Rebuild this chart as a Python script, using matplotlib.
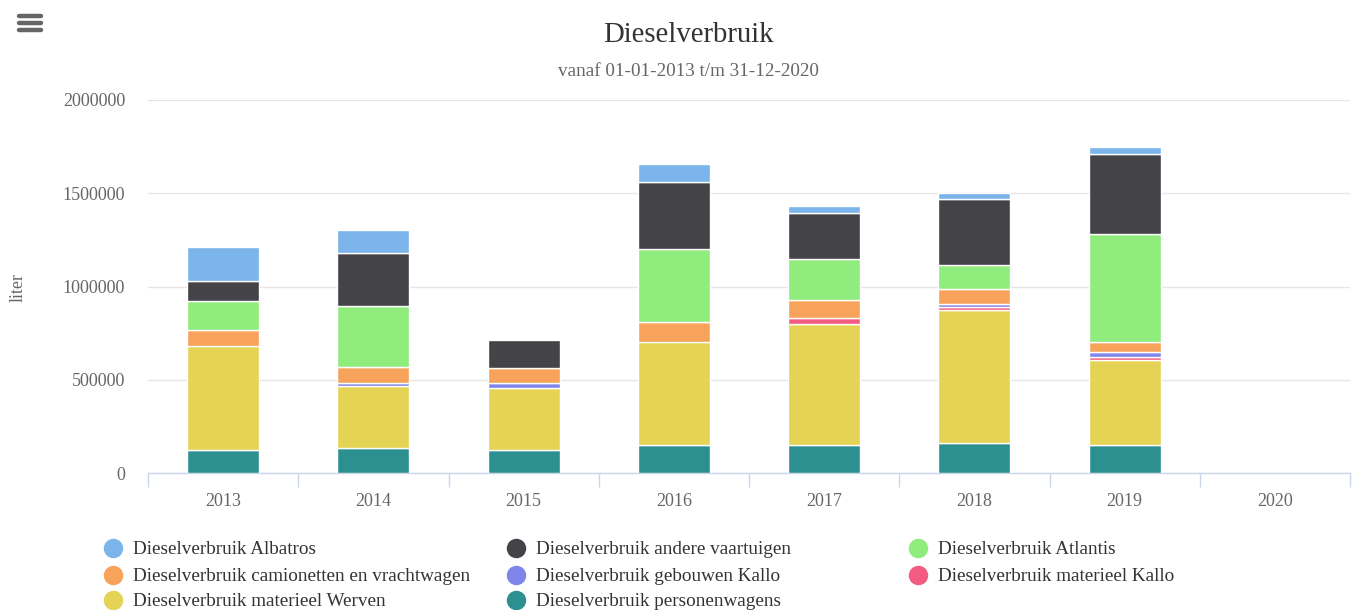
import numpy as np
import matplotlib
matplotlib.use("Agg")
import matplotlib.pyplot as plt
from matplotlib.lines import Line2D

plt.rcParams["font.family"] = ["Liberation Serif", "DejaVu Serif"]

years = ["2013", "2014", "2015", "2016", "2017", "2018", "2019", "2020"]

# legend order (Highcharts stacks the first series on top)
series_names = [
    "Dieselverbruik Albatros",
    "Dieselverbruik andere vaartuigen",
    "Dieselverbruik Atlantis",
    "Dieselverbruik camionetten en vrachtwagen",
    "Dieselverbruik gebouwen Kallo",
    "Dieselverbruik materieel Kallo",
    "Dieselverbruik materieel Werven",
    "Dieselverbruik personenwagens",
]
colors = ["#7cb5ec", "#434348", "#90ed7d", "#f7a35c",
          "#8085e9", "#f15c80", "#e4d354", "#2b908f"]

albatros = [180400, 126800, 0, 92800, 34000, 34000, 41100, 0]
andere = [110700, 282200, 151800, 359000, 248200, 351800, 428600, 0]
atlantis = [153600, 326900, 0, 394800, 221500, 128600, 575100, 0]
camionetten = [87500, 85700, 76800, 103500, 96500, 82000, 57200, 0]
gebouwen = [0, 16000, 26800, 0, 0, 19000, 25000, 0]
materieel_kallo = [0, 0, 0, 0, 30000, 12000, 17800, 0]
werven = [555500, 334000, 334000, 555500, 650100, 715700, 455500, 0]
personenwagens = [125000, 134000, 125000, 150000, 150000, 160700, 150000, 0]

values = [albatros, andere, atlantis, camionetten, gebouwen,
          materieel_kallo, werven, personenwagens]

W, H = 1359, 610
fig = plt.figure(figsize=(W / 100, H / 100), dpi=100)
ax = fig.add_axes([148 / W, (H - 473.3) / H, (1350 - 148) / W, (473.3 - 100) / H])

x = np.arange(len(years))
bottom = np.zeros(len(years))
# draw from the bottom of the stack up, skip empty segments
for name, vals, col in reversed(list(zip(series_names, values, colors))):
    vals = np.array(vals, dtype=float)
    keep = vals > 0
    ax.bar(x[keep], vals[keep], bottom=bottom[keep], width=0.48, color=col,
           edgecolor="white", linewidth=1, zorder=3)
    bottom += vals

ax.set_xlim(-0.5, len(years) - 0.5)
ax.set_ylim(0, 2000000)
ax.set_yticks([0, 500000, 1000000, 1500000, 2000000])
ax.set_yticklabels(["0", "500000", "1000000", "1500000", "2000000"])
ax.grid(axis="y", color="#e6e6e6", linewidth=1, zorder=0)

for s in ["top", "right", "left"]:
    ax.spines[s].set_visible(False)
ax.spines["bottom"].set_color("#ccd6eb")
ax.spines["bottom"].set_linewidth(1)

ax.set_xticks(x)
ax.set_xticklabels(years)
ax.set_xticks(np.arange(-0.5, len(years)), minor=True)
ax.tick_params(axis="x", which="major", length=0, pad=14,
               labelsize=13, labelcolor="#666666")
ax.tick_params(axis="x", which="minor", length=10, width=1, color="#ccd6eb")
ax.tick_params(axis="y", length=0, pad=16.5, labelsize=13, labelcolor="#666666")

fig.text(18 / W, 1 - 288 / H, "liter", rotation=90, ha="center", va="center",
         fontsize=13, color="#666666")

fig.text(688 / W, 1 - 35.5 / H, "Dieselverbruik", ha="center", va="center",
         fontsize=20.7, color="#333333")
fig.text(688 / W, 1 - 72 / H, "vanaf 01-01-2013 t/m 31-12-2020", ha="center",
         va="center", fontsize=13.8, color="#666666")

# menu icon
for yy in [16, 23, 30]:
    fig.add_artist(Line2D([19 / W, 41 / W], [1 - yy / H, 1 - yy / H],
                          color="#666666", linewidth=3.2, solid_capstyle="round"))

# legend, three columns, row-major
col_x = [113, 516, 918]
row_y = [548, 575, 600]
for i, (name, col) in enumerate(zip(series_names, colors)):
    cx = col_x[i % 3]
    cy = row_y[i // 3]
    fig.add_artist(Line2D([cx / W], [1 - cy / H], marker="o", markersize=13,
                          color=col, linestyle="none"))
    fig.text((cx + 20) / W, 1 - (cy + 1.5) / H, name, ha="left", va="center",
             fontsize=13.8, color="#333333")

fig.savefig("out.png", dpi=100, facecolor="white")
